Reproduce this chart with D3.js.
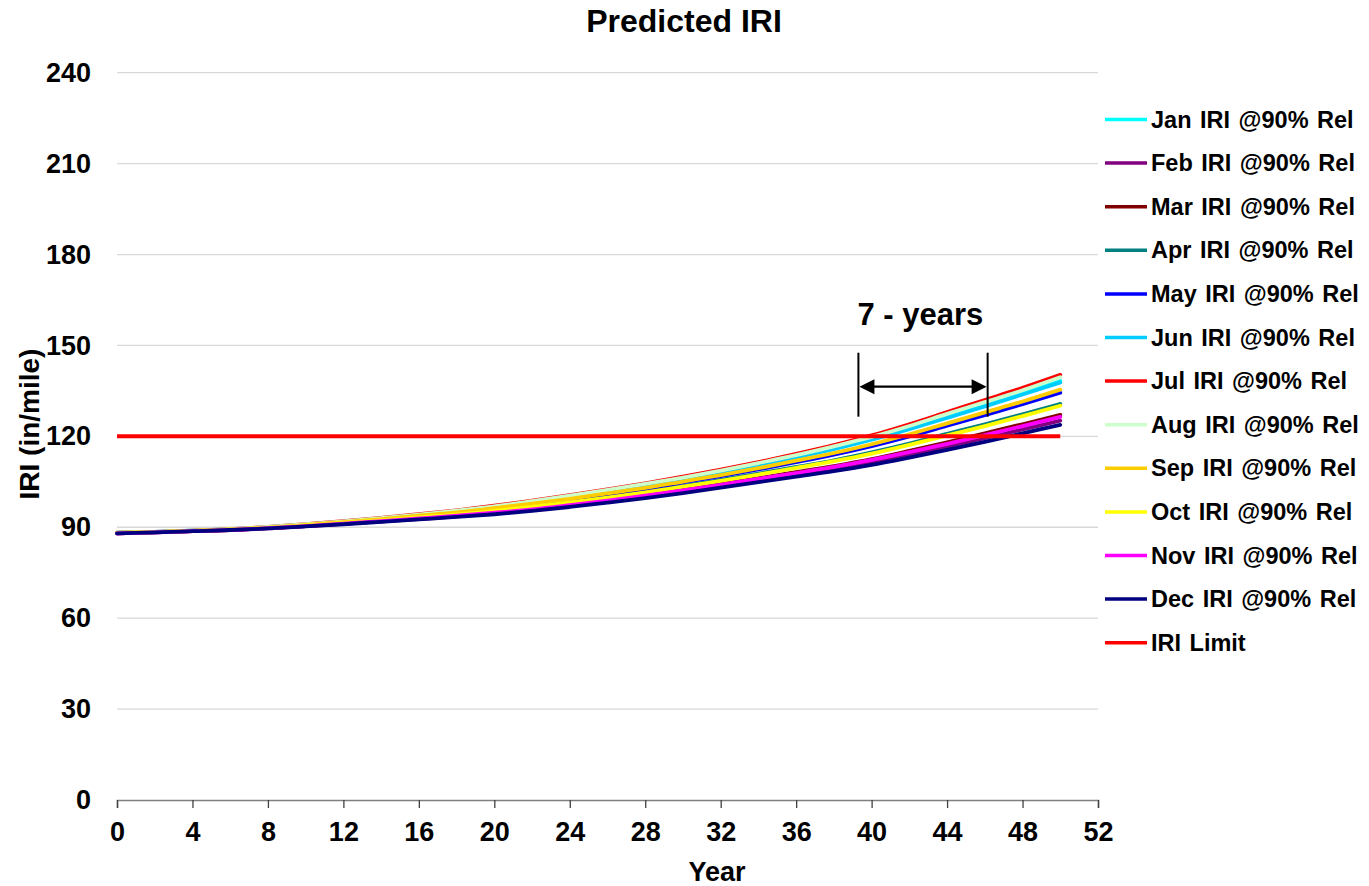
<!DOCTYPE html>
<html>
<head>
<meta charset="utf-8">
<script src="https://cdn.jsdelivr.net/npm/d3@7"></script>
<style>
  html, body { margin: 0; padding: 0; background: #fff; }
  svg { display: block; font-family: "Liberation Sans", Arial, sans-serif; }
</style>
</head>
<body>
<svg id="chart" width="1369" height="886"></svg>
<script>
// Pavement roughness prediction, one curve per month of construction
const years = [0, 2, 4, 6, 8, 10, 12, 14, 16, 18, 20, 22, 24, 26, 28, 30, 32, 34, 36, 38, 40, 42, 44, 46, 48, 50];

const janIRI = [88.2, 88.5, 88.9, 89.4, 90.0, 90.9, 91.9, 92.9, 94.1, 95.3, 96.8, 98.4, 100.1, 102.0, 103.9, 106.1, 108.3, 110.7, 113.3, 116.1, 119.1, 122.7, 126.5, 130.3, 134.2, 138.3];
const febIRI = [88.0, 88.3, 88.7, 89.1, 89.6, 90.4, 91.1, 91.9, 92.7, 93.6, 94.5, 95.7, 97.0, 98.5, 100.0, 101.8, 103.6, 105.5, 107.3, 109.2, 111.4, 113.9, 116.6, 119.4, 122.3, 125.2];
const marIRI = [88.0, 88.3, 88.7, 89.1, 89.7, 90.4, 91.2, 92.1, 92.9, 93.8, 94.9, 96.1, 97.5, 99.0, 100.6, 102.4, 104.3, 106.2, 108.2, 110.2, 112.5, 115.2, 118.0, 121.0, 124.0, 127.1];
const aprIRI = [88.1, 88.4, 88.8, 89.2, 89.8, 90.6, 91.4, 92.4, 93.3, 94.3, 95.5, 96.8, 98.3, 100.0, 101.7, 103.6, 105.6, 107.7, 109.9, 112.1, 114.7, 117.6, 120.8, 124.0, 127.3, 130.7];
const mayIRI = [88.1, 88.4, 88.8, 89.3, 89.9, 90.8, 91.6, 92.6, 93.7, 94.8, 96.1, 97.6, 99.2, 100.9, 102.7, 104.8, 106.9, 109.1, 111.5, 114.0, 116.8, 120.0, 123.5, 127.0, 130.6, 134.4];
const junIRI = [88.2, 88.5, 88.9, 89.3, 90.0, 90.9, 91.8, 92.9, 94.0, 95.3, 96.7, 98.3, 100.0, 101.8, 103.8, 105.9, 108.1, 110.5, 113.1, 115.8, 118.9, 122.4, 126.1, 129.9, 133.8, 137.8];
const julIRI = [88.2, 88.5, 88.9, 89.4, 90.1, 91.0, 92.0, 93.1, 94.3, 95.6, 97.1, 98.8, 100.6, 102.5, 104.5, 106.7, 109.0, 111.5, 114.2, 117.1, 120.3, 124.0, 128.0, 132.0, 136.0, 140.3];
const augIRI = [88.2, 88.5, 88.9, 89.4, 90.1, 91.0, 91.9, 93.0, 94.2, 95.5, 96.9, 98.6, 100.4, 102.3, 104.3, 106.4, 108.7, 111.2, 113.8, 116.7, 119.8, 123.4, 127.4, 131.3, 135.2, 139.5];
const sepIRI = [88.1, 88.4, 88.8, 89.3, 89.9, 90.8, 91.7, 92.7, 93.8, 94.9, 96.3, 97.8, 99.4, 101.2, 103.0, 105.1, 107.2, 109.5, 112.0, 114.5, 117.4, 120.7, 124.3, 127.9, 131.5, 135.4];
const octIRI = [88.1, 88.4, 88.8, 89.2, 89.8, 90.6, 91.4, 92.3, 93.3, 94.2, 95.4, 96.7, 98.2, 99.8, 101.5, 103.4, 105.3, 107.4, 109.6, 111.8, 114.3, 117.2, 120.3, 123.4, 126.7, 130.1];
const novIRI = [88.0, 88.3, 88.7, 89.1, 89.7, 90.4, 91.2, 92.0, 92.9, 93.8, 94.8, 95.9, 97.3, 98.8, 100.4, 102.2, 104.0, 106.0, 107.9, 109.9, 112.2, 114.8, 117.5, 120.4, 123.4, 126.4];
const decIRI = [88.0, 88.3, 88.7, 89.1, 89.6, 90.3, 91.0, 91.8, 92.6, 93.4, 94.3, 95.4, 96.7, 98.1, 99.6, 101.3, 103.1, 104.9, 106.7, 108.5, 110.6, 113.0, 115.5, 118.2, 121.0, 123.8];

const iriLimit = 120;
const limitYears = [0, 50];

const seriesNames = ["Jan IRI @90% Rel", "Feb IRI @90% Rel", "Mar IRI @90% Rel", "Apr IRI @90% Rel",
  "May IRI @90% Rel", "Jun IRI @90% Rel", "Jul IRI @90% Rel", "Aug IRI @90% Rel",
  "Sep IRI @90% Rel", "Oct IRI @90% Rel", "Nov IRI @90% Rel", "Dec IRI @90% Rel"];
const seriesValues = [janIRI, febIRI, marIRI, aprIRI, mayIRI, junIRI, julIRI, augIRI, sepIRI, octIRI, novIRI, decIRI];
const seriesColors = ["#00FFFF", "#800080", "#800000", "#008080", "#0000FF", "#00CCFF",
  "#FF0000", "#CCFFCC", "#FFCC00", "#FFFF00", "#FF00FF", "#000080"];
const limitName = "IRI Limit";
const limitColor = "#FF0000";

const xTicks = [0, 4, 8, 12, 16, 20, 24, 28, 32, 36, 40, 44, 48, 52];
const yTicks = [0, 30, 60, 90, 120, 150, 180, 210, 240];

// Service-life gap annotation (years where curves reach the limit)
const gapYears = [39.3, 46.15];
const gapSpan = [126.5, 147.6];
const gapArrowAt = 136.4;
const gapLabel = "7 - years";

const svg = d3.select("#chart");
const plot = { left: 117, right: 1098, top: 72.7, bottom: 800 };

const x = d3.scaleLinear().domain([0, 52]).range([plot.left, plot.right]);
const y = d3.scaleLinear().domain([0, 240]).range([plot.bottom, plot.top]);

// Title
svg.append("text")
  .attr("x", 684).attr("y", 32)
  .attr("text-anchor", "middle")
  .attr("font-size", 32).attr("font-weight", "bold")
  .text("Predicted IRI");

// Horizontal gridlines
svg.append("g")
  .selectAll("line")
  .data(yTicks.filter(d => d > 0))
  .join("line")
  .attr("x1", plot.left).attr("x2", plot.right)
  .attr("y1", d => y(d)).attr("y2", d => y(d))
  .attr("stroke", "#D9D9D9").attr("stroke-width", 1.3);

// Y axis (labels only)
const yAxis = svg.append("g")
  .attr("transform", `translate(${plot.left},0)`)
  .call(d3.axisLeft(y).tickValues(yTicks).tickSize(0).tickPadding(26));
yAxis.select(".domain").remove();
yAxis.selectAll("text")
  .attr("font-size", 27).attr("font-weight", "bold").attr("fill", "#000")
  .attr("font-family", "Liberation Sans, Arial, sans-serif");

// X axis
const xAxis = svg.append("g")
  .attr("transform", `translate(0,${plot.bottom})`)
  .call(d3.axisBottom(x).tickValues(xTicks).tickSize(8).tickPadding(14));
xAxis.select(".domain").attr("stroke", "#808080").attr("stroke-width", 1.5);
xAxis.selectAll(".tick line").attr("stroke", "#404040").attr("stroke-width", 1.3);
xAxis.selectAll("text")
  .attr("font-size", 27).attr("font-weight", "bold").attr("fill", "#000")
  .attr("font-family", "Liberation Sans, Arial, sans-serif");

// Axis titles
svg.append("text")
  .attr("transform", "translate(39,424) rotate(-90)")
  .attr("text-anchor", "middle")
  .attr("font-size", 28).attr("font-weight", "bold")
  .text("IRI (in/mile)");
svg.append("text")
  .attr("x", 717).attr("y", 881)
  .attr("text-anchor", "middle")
  .attr("font-size", 27).attr("font-weight", "bold")
  .text("Year");

// Monthly curves
const line = d3.line()
  .x(d => x(d[0]))
  .y(d => y(d[1]))
  .curve(d3.curveMonotoneX);

const curves = svg.append("g").attr("fill", "none").attr("stroke-linejoin", "round").attr("stroke-linecap", "round");
seriesValues.forEach((vals, i) => {
  curves.append("path")
    .datum(years.map((yr, k) => [yr, vals[k]]))
    .attr("d", line)
    .attr("stroke", seriesColors[i])
    .attr("stroke-width", 3.8);
});

// Limit line
svg.append("line")
  .attr("x1", x(limitYears[0])).attr("x2", x(limitYears[1]))
  .attr("y1", y(iriLimit)).attr("y2", y(iriLimit))
  .attr("stroke", limitColor).attr("stroke-width", 4);

// Gap annotation
const anno = svg.append("g");
gapYears.forEach(yr => {
  anno.append("line")
    .attr("x1", x(yr)).attr("x2", x(yr))
    .attr("y1", y(gapSpan[1])).attr("y2", y(gapSpan[0]))
    .attr("stroke", "#000").attr("stroke-width", 2);
});
const ax0 = x(gapYears[0]) + 1, ax1 = x(gapYears[1]) - 1, ay = y(gapArrowAt);
anno.append("line")
  .attr("x1", ax0 + 12).attr("x2", ax1 - 12)
  .attr("y1", ay).attr("y2", ay)
  .attr("stroke", "#000").attr("stroke-width", 2.2);
anno.append("path")
  .attr("d", `M${ax0},${ay} L${ax0 + 15},${ay - 7.5} L${ax0 + 15},${ay + 7.5} Z`)
  .attr("fill", "#000");
anno.append("path")
  .attr("d", `M${ax1},${ay} L${ax1 - 15},${ay - 7.5} L${ax1 - 15},${ay + 7.5} Z`)
  .attr("fill", "#000");
anno.append("text")
  .attr("x", x(gapYears[0]) - 1).attr("y", 325)
  .attr("font-size", 31).attr("font-weight", "bold")
  .text(gapLabel);

// Legend
const legendItems = seriesNames.map((n, i) => ({ name: n, color: seriesColors[i] }))
  .concat([{ name: limitName, color: limitColor }]);
const legend = svg.append("g");
legendItems.forEach((d, i) => {
  const ly = 119.5 + i * 43.6;
  legend.append("line")
    .attr("x1", 1105).attr("x2", 1147)
    .attr("y1", ly).attr("y2", ly)
    .attr("stroke", d.color).attr("stroke-width", 3.5);
  legend.append("text")
    .attr("x", 1151).attr("y", ly + 8)
    .attr("font-size", 23.5).attr("font-weight", "bold")
    .attr("word-spacing", 2)
    .text(d.name);
});
</script>
</body>
</html>
